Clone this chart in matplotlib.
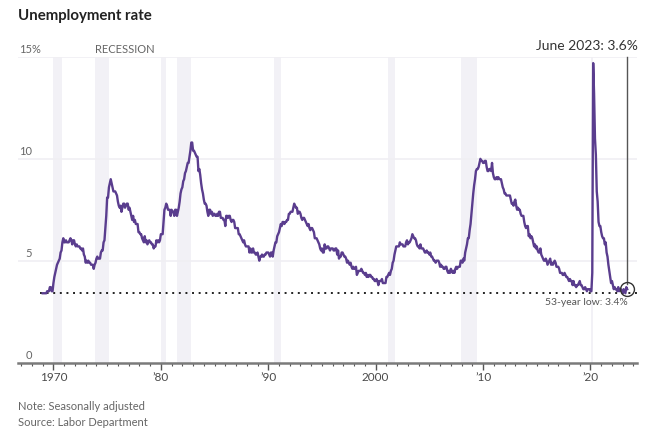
import numpy as np
import matplotlib
matplotlib.use("Agg")
import matplotlib.pyplot as plt
from matplotlib.ticker import FixedLocator

plt.rcParams['font.family'] = ['Lato', 'DejaVu Sans']

# Monthly unemployment rate (%), Jan 1969 - Jun 2023
rates_by_year = {
    1969: [3.4, 3.4, 3.4, 3.4, 3.4, 3.5, 3.5, 3.5, 3.7, 3.7, 3.5, 3.5],
    1970: [3.9, 4.2, 4.4, 4.6, 4.8, 4.9, 5.0, 5.1, 5.4, 5.5, 5.9, 6.1],
    1971: [5.9, 5.9, 6.0, 5.9, 5.9, 5.9, 6.0, 6.1, 6.0, 5.8, 6.0, 6.0],
    1972: [5.8, 5.7, 5.8, 5.7, 5.7, 5.7, 5.6, 5.6, 5.5, 5.6, 5.3, 5.2],
    1973: [4.9, 5.0, 4.9, 5.0, 4.9, 4.9, 4.8, 4.8, 4.8, 4.6, 4.8, 4.9],
    1974: [5.1, 5.2, 5.1, 5.1, 5.1, 5.4, 5.5, 5.5, 5.9, 6.0, 6.6, 7.2],
    1975: [8.1, 8.1, 8.6, 8.8, 9.0, 8.8, 8.6, 8.4, 8.4, 8.4, 8.3, 8.2],
    1976: [7.9, 7.7, 7.6, 7.7, 7.4, 7.6, 7.8, 7.8, 7.6, 7.7, 7.8, 7.8],
    1977: [7.5, 7.6, 7.4, 7.2, 7.0, 7.2, 6.9, 7.0, 6.8, 6.8, 6.8, 6.4],
    1978: [6.4, 6.3, 6.3, 6.1, 6.0, 5.9, 6.2, 5.9, 6.0, 5.8, 5.9, 6.0],
    1979: [5.9, 5.9, 5.8, 5.8, 5.6, 5.7, 5.7, 6.0, 5.9, 6.0, 5.9, 6.0],
    1980: [6.3, 6.3, 6.3, 6.9, 7.5, 7.6, 7.8, 7.7, 7.5, 7.5, 7.5, 7.2],
    1981: [7.5, 7.4, 7.4, 7.2, 7.5, 7.5, 7.2, 7.4, 7.6, 7.9, 8.3, 8.5],
    1982: [8.6, 8.9, 9.0, 9.3, 9.4, 9.6, 9.8, 9.8, 10.1, 10.4, 10.8, 10.8],
    1983: [10.4, 10.4, 10.3, 10.2, 10.1, 10.1, 9.4, 9.5, 9.2, 8.8, 8.5, 8.3],
    1984: [8.0, 7.8, 7.8, 7.7, 7.4, 7.2, 7.5, 7.5, 7.3, 7.4, 7.2, 7.3],
    1985: [7.3, 7.2, 7.2, 7.3, 7.2, 7.4, 7.4, 7.1, 7.1, 7.1, 7.0, 7.0],
    1986: [6.7, 7.2, 7.2, 7.1, 7.2, 7.2, 7.0, 6.9, 7.0, 7.0, 6.9, 6.6],
    1987: [6.6, 6.6, 6.6, 6.3, 6.3, 6.2, 6.1, 6.0, 5.9, 6.0, 5.8, 5.7],
    1988: [5.7, 5.7, 5.7, 5.4, 5.6, 5.4, 5.4, 5.6, 5.4, 5.4, 5.3, 5.3],
    1989: [5.4, 5.2, 5.0, 5.2, 5.2, 5.3, 5.2, 5.2, 5.3, 5.3, 5.4, 5.4],
    1990: [5.4, 5.3, 5.2, 5.4, 5.4, 5.2, 5.5, 5.7, 5.9, 5.9, 6.2, 6.3],
    1991: [6.4, 6.6, 6.8, 6.7, 6.9, 6.9, 6.8, 6.9, 6.9, 7.0, 7.0, 7.3],
    1992: [7.3, 7.4, 7.4, 7.4, 7.6, 7.8, 7.7, 7.6, 7.6, 7.3, 7.4, 7.4],
    1993: [7.3, 7.1, 7.0, 7.1, 7.1, 7.0, 6.9, 6.8, 6.7, 6.8, 6.6, 6.5],
    1994: [6.6, 6.6, 6.5, 6.4, 6.1, 6.1, 6.1, 6.0, 5.9, 5.8, 5.6, 5.5],
    1995: [5.6, 5.4, 5.4, 5.8, 5.6, 5.6, 5.7, 5.7, 5.6, 5.5, 5.6, 5.6],
    1996: [5.6, 5.5, 5.5, 5.6, 5.6, 5.3, 5.5, 5.1, 5.2, 5.2, 5.4, 5.4],
    1997: [5.3, 5.2, 5.2, 5.1, 4.9, 5.0, 4.9, 4.8, 4.9, 4.7, 4.6, 4.7],
    1998: [4.6, 4.6, 4.7, 4.3, 4.4, 4.5, 4.5, 4.5, 4.6, 4.5, 4.4, 4.4],
    1999: [4.3, 4.4, 4.2, 4.3, 4.2, 4.3, 4.3, 4.2, 4.2, 4.1, 4.1, 4.0],
    2000: [4.0, 4.1, 4.0, 3.8, 4.0, 4.0, 4.0, 4.1, 3.9, 3.9, 3.9, 3.9],
    2001: [4.2, 4.2, 4.3, 4.4, 4.3, 4.5, 4.6, 4.9, 5.0, 5.3, 5.5, 5.7],
    2002: [5.7, 5.7, 5.7, 5.9, 5.8, 5.8, 5.8, 5.7, 5.7, 5.7, 5.9, 6.0],
    2003: [5.8, 5.9, 5.9, 6.0, 6.1, 6.3, 6.2, 6.1, 6.1, 6.0, 5.8, 5.7],
    2004: [5.7, 5.6, 5.8, 5.6, 5.6, 5.6, 5.5, 5.4, 5.4, 5.5, 5.4, 5.4],
    2005: [5.3, 5.4, 5.2, 5.2, 5.1, 5.0, 5.0, 4.9, 5.0, 5.0, 5.0, 4.9],
    2006: [4.7, 4.8, 4.7, 4.7, 4.6, 4.6, 4.7, 4.7, 4.5, 4.4, 4.5, 4.4],
    2007: [4.6, 4.5, 4.4, 4.5, 4.4, 4.6, 4.7, 4.6, 4.7, 4.7, 4.7, 5.0],
    2008: [5.0, 4.9, 5.1, 5.0, 5.4, 5.6, 5.8, 6.1, 6.1, 6.5, 6.8, 7.3],
    2009: [7.8, 8.3, 8.7, 9.0, 9.4, 9.5, 9.5, 9.6, 9.8, 10.0, 9.9, 9.9],
    2010: [9.8, 9.8, 9.9, 9.9, 9.6, 9.4, 9.4, 9.5, 9.5, 9.4, 9.8, 9.3],
    2011: [9.1, 9.0, 9.0, 9.1, 9.0, 9.1, 9.0, 9.0, 9.0, 8.8, 8.6, 8.5],
    2012: [8.3, 8.3, 8.2, 8.2, 8.2, 8.2, 8.2, 8.0, 7.8, 7.8, 7.7, 7.9],
    2013: [8.0, 7.7, 7.5, 7.6, 7.5, 7.5, 7.3, 7.2, 7.2, 7.2, 6.9, 6.7],
    2014: [6.6, 6.7, 6.7, 6.2, 6.3, 6.1, 6.2, 6.1, 5.9, 5.7, 5.8, 5.6],
    2015: [5.7, 5.5, 5.4, 5.4, 5.6, 5.3, 5.2, 5.1, 5.0, 5.0, 5.1, 5.0],
    2016: [4.8, 4.9, 5.0, 5.1, 4.8, 4.9, 4.8, 4.9, 5.0, 4.9, 4.7, 4.7],
    2017: [4.7, 4.6, 4.4, 4.4, 4.4, 4.3, 4.3, 4.4, 4.3, 4.2, 4.2, 4.1],
    2018: [4.0, 4.1, 4.0, 4.0, 3.8, 4.0, 3.8, 3.8, 3.7, 3.8, 3.8, 3.9],
    2019: [4.0, 3.8, 3.8, 3.7, 3.6, 3.6, 3.7, 3.6, 3.5, 3.6, 3.6, 3.6],
    2020: [3.5, 3.5, 4.4, 14.7, 13.2, 11.0, 10.2, 8.4, 7.9, 6.9, 6.7, 6.7],
    2021: [6.4, 6.2, 6.1, 6.1, 5.8, 5.9, 5.4, 5.2, 4.8, 4.5, 4.2, 3.9],
    2022: [4.0, 3.8, 3.6, 3.7, 3.6, 3.6, 3.5, 3.7, 3.5, 3.6, 3.6, 3.5],
    2023: [3.4, 3.6, 3.5, 3.4, 3.7, 3.6],
}

# NBER recessions (start, end) as decimal years
recession_starts = [1969.92, 1973.83, 1980.0, 1981.5, 1990.5, 2001.17, 2007.92, 2020.08]
recession_ends = [1970.83, 1975.17, 1980.5, 1982.83, 1991.17, 2001.83, 2009.42, 2020.25]

low_value = 3.4
latest_label = "June 2023: 3.6%"
low_label = "53-year low: 3.4%"
ytick_values = [0, 5, 10, 15]
ytick_labels = ["0", "5", "10", "15"]
xtick_years = [1970, 1980, 1990, 2000, 2010, 2020]
xtick_labels = ["1970", "\u201980", "\u201990", "2000", "\u201910", "\u201920"]

dates = []
values = []
for yr, vals in rates_by_year.items():
    for m, v in enumerate(vals):
        dates.append(yr + m / 12.0)
        values.append(v)
dates = np.array(dates)
values = np.array(values)

W, H = 668, 442
fig = plt.figure(figsize=(W / 100, H / 100), dpi=100)
fig.patch.set_facecolor('white')

XMIN, XMAX = 1966.7, 2024.33
ax_left, ax_right = 18 / W, 637 / W
ax_bottom, ax_top = (H - 362.5) / H, (H - 57) / H
ax = fig.add_axes([ax_left, ax_bottom, ax_right - ax_left, ax_top - ax_bottom])
ax.set_xlim(XMIN, XMAX)
ax.set_ylim(0, 15)

for s, e in zip(recession_starts, recession_ends):
    ax.axvspan(s, e, color='#f2f1f6', lw=0, zorder=0)

for v in ytick_values[1:]:
    ax.axhline(v, color='#f0eff3', lw=1.2, zorder=1)

# dotted low line
ax.plot([dates[0] - 0.25, XMAX], [low_value, low_value], color='#222222',
        lw=1.4, linestyle=(0, (1, 2.4)), zorder=2, clip_on=False)

ax.plot(dates, values, color='#5a3d8e', lw=1.7, zorder=3, solid_joinstyle='round')

# latest point annotation
last_x, last_y = dates[-1], values[-1]
ax.plot([last_x, last_x], [last_y + 0.25, 15.0], color='#555555', lw=1.0, zorder=4, clip_on=False)
ax.plot([last_x], [last_y], marker='o', markersize=10, markerfacecolor='none',
        markeredgecolor='#333333', markeredgewidth=1.0, zorder=5)
ax.text(last_x + 0.95, 15.25, latest_label, ha='right', va='bottom',
        fontsize=10, color='#333333')
ax.text(last_x + 0.03, low_value - 0.25, low_label, ha='right', va='top',
        fontsize=7.5, color='#555555')

# spines / ticks
for sp in ['left', 'right', 'top']:
    ax.spines[sp].set_visible(False)
ax.spines['bottom'].set_color('#7a7a7a')
ax.spines['bottom'].set_linewidth(1.8)
ax.spines['bottom'].set_zorder(6)
ax.set_yticks([])
ax.xaxis.set_major_locator(FixedLocator(xtick_years))
ax.set_xticklabels(xtick_labels)
ax.xaxis.set_minor_locator(FixedLocator(list(range(1967, 2025))))
ax.tick_params(axis='x', which='major', length=5, width=1.0, color='#555555',
               labelsize=8.5, labelcolor='#4a4a4a', pad=2)
ax.tick_params(axis='x', which='minor', length=2.5, width=0.8, color='#555555')

# y labels above gridlines
for v, lab in zip(ytick_values, ytick_labels):
    ax.text(1968.0, v + 0.36, lab, ha='right', va='center', fontsize=8,
            color='#666666')
ax.text(1968.0, 15.36, "%", ha='left', va='center', fontsize=8, color='#666666')
ax.text(1973.85, 15.36, "RECESSION", ha='left', va='center', fontsize=8, color='#666666')

fig.text(18 / W, 1 - 16 / H, "Unemployment rate", ha='left', va='center',
         fontsize=10.8, fontweight='bold', color='#222222')
fig.text(18 / W, 1 - 406 / H, "Note: Seasonally adjusted", ha='left', va='center',
         fontsize=8, color='#666666')
fig.text(18 / W, 1 - 423 / H, "Source: Labor Department", ha='left', va='center',
         fontsize=8, color='#666666')

fig.savefig('out.png', dpi=100, facecolor='white')
